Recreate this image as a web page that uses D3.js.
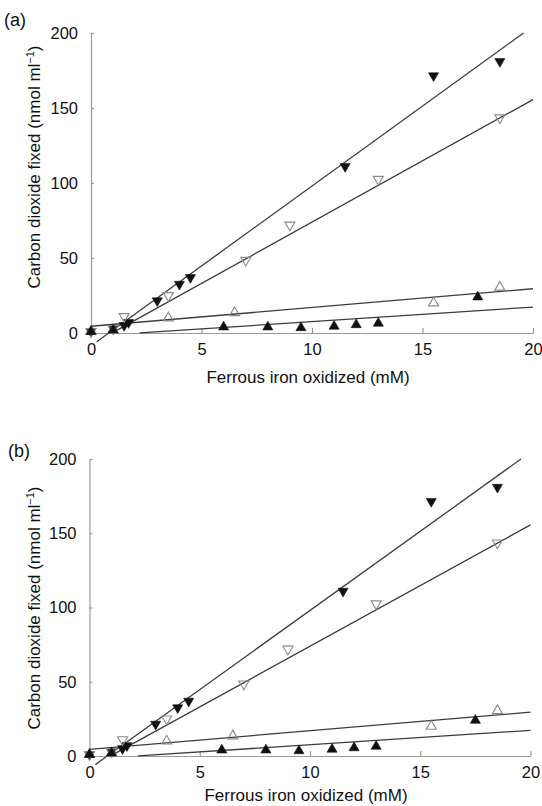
<!DOCTYPE html>
<html>
<head>
<meta charset="utf-8">
<script src="https://cdn.jsdelivr.net/npm/d3@7"></script>
<style>
  html, body { margin: 0; padding: 0; background: #fff; }
  svg { display: block; font-family: "Liberation Sans", Arial, sans-serif; }
</style>
</head>
<body>
<div id="chart"></div>
<script>
const filledDownX = [0, 1.0, 1.5, 1.7, 3.0, 4.0, 4.5, 11.5, 15.5, 18.5];
const filledDownY = [1, 3, 5, 7, 21.5, 32.5, 37, 111, 171.5, 181];
const openDownX = [0, 1.0, 1.5, 3.5, 7.0, 9.0, 13.0, 18.5];
const openDownY = [1, 3, 11, 25, 48.5, 72, 102.5, 143.5];
const openUpX = [0, 1.0, 3.5, 6.5, 15.5, 18.5];
const openUpY = [1, 2, 10, 13.5, 20, 30.5];
const filledUpX = [0, 1.0, 6.0, 8.0, 9.5, 11.0, 12.0, 13.0, 17.5];
const filledUpY = [1, 2, 4, 4, 3.5, 4.5, 5.5, 6.5, 24];

// Fitted lines: slope, intercept, x range drawn
const fitSlope = [10.66, 8.17, 1.25, 0.97];
const fitIntercept = [-8.6, -7.8, 4.5, -2.1];
const fitStart = [0.26, 0.96, 0, 2.2];
const fitEnd = [19.57, 20, 20, 20];

const xTicks = [0, 5, 10, 15, 20];
const yTicks = [0, 50, 100, 150, 200];
const panelLabels = ['(a)', '(b)'];

const W = 542;
const H = 806;
const AXIS_COLOR = '#9a9a9a';
const LINE_COLOR = '#3c3c3c';
const OPEN_COLOR = '#8a8a8a';
const SYMBOL_SIZE = 44;

const PANELS = [
  { left: 91, right: 533, top: 33, bottom: 333, titleY: 167, xTitleY: 383, labelY: 26 },
  { left: 89.5, right: 530.5, top: 459, bottom: 756, titleY: 608, xTitleY: 801, labelY: 457 },
];

const series = [
  { xs: filledDownX, ys: filledDownY, down: true, filled: true },
  { xs: openDownX, ys: openDownY, down: true, filled: false },
  { xs: openUpX, ys: openUpY, down: false, filled: false },
  { xs: filledUpX, ys: filledUpY, down: false, filled: true },
];

const svg = d3
  .select('#chart')
  .append('svg')
  .attr('width', W)
  .attr('height', H)
  .attr('viewBox', `0 0 ${W} ${H}`);

const triangle = d3.symbol().type(d3.symbolTriangle).size(SYMBOL_SIZE);

PANELS.forEach((p, pi) => {
  const x = d3.scaleLinear().domain([0, 20]).range([p.left, p.right]);
  const y = d3.scaleLinear().domain([0, 200]).range([p.bottom, p.top]);

  const g = svg.append('g');

  // Axes (ticks point inwards, as in the original)
  const yAxis = g
    .append('g')
    .attr('transform', `translate(${p.left},0)`)
    .call(d3.axisLeft(y).tickValues(yTicks).tickSizeInner(-3).tickSizeOuter(0).tickPadding(13));

  const xAxis = g
    .append('g')
    .attr('transform', `translate(0,${p.bottom})`)
    .call(d3.axisBottom(x).tickValues(xTicks).tickSizeInner(-5).tickSizeOuter(0).tickPadding(10));

  [xAxis, yAxis].forEach((ax) => {
    ax.select('.domain').attr('stroke', AXIS_COLOR).attr('stroke-width', 1.2);
    ax.selectAll('.tick line').attr('stroke', AXIS_COLOR).attr('stroke-width', 1.2);
    ax.selectAll('.tick text')
      .attr('fill', '#111')
      .style('font-size', '16.5px')
      .style('font-family', '"Liberation Sans", Arial, sans-serif');
  });

  // Fitted lines
  g.selectAll('.fit')
    .data(fitSlope.map((m, i) => ({ m, b: fitIntercept[i], x0: fitStart[i], x1: fitEnd[i] })))
    .enter()
    .append('line')
    .attr('class', 'fit')
    .attr('x1', (d) => x(d.x0))
    .attr('y1', (d) => y(d.m * d.x0 + d.b))
    .attr('x2', (d) => x(d.x1))
    .attr('y2', (d) => y(d.m * d.x1 + d.b))
    .attr('stroke', LINE_COLOR)
    .attr('stroke-width', 1.3);

  // Markers
  series.forEach((s) => {
    g.append('g')
      .selectAll('path')
      .data(s.xs.map((v, i) => [v, s.ys[i]]))
      .enter()
      .append('path')
      .attr('d', triangle)
      .attr('transform', (d) => `translate(${x(d[0])},${y(d[1])})${s.down ? ' rotate(180)' : ''}`)
      .attr('fill', s.filled ? '#111' : 'none')
      .attr('stroke', s.filled ? '#111' : OPEN_COLOR)
      .attr('stroke-width', s.filled ? 0.6 : 1.1);
  });

  // Axis titles
  g.append('text')
    .attr('x', (p.left + p.right) / 2 - 4)
    .attr('y', p.xTitleY)
    .attr('text-anchor', 'middle')
    .attr('fill', '#111')
    .style('font-size', '17px')
    .text('Ferrous iron oxidized (mM)');

  const yt = g
    .append('text')
    .attr('transform', `translate(40,${p.titleY}) rotate(-90)`)
    .attr('text-anchor', 'middle')
    .attr('fill', '#111')
    .style('font-size', '17px');
  yt.append('tspan').text('Carbon dioxide fixed (nmol ml');
  yt.append('tspan').attr('dy', -6).style('font-size', '11px').text('\u22121');
  yt.append('tspan').attr('dy', 6).text(')');

  // Panel label
  g.append('text')
    .attr('x', pi === 0 ? 4 : 8)
    .attr('y', p.labelY)
    .attr('fill', '#111')
    .style('font-size', '18px')
    .text(panelLabels[pi]);
});
</script>
</body>
</html>
